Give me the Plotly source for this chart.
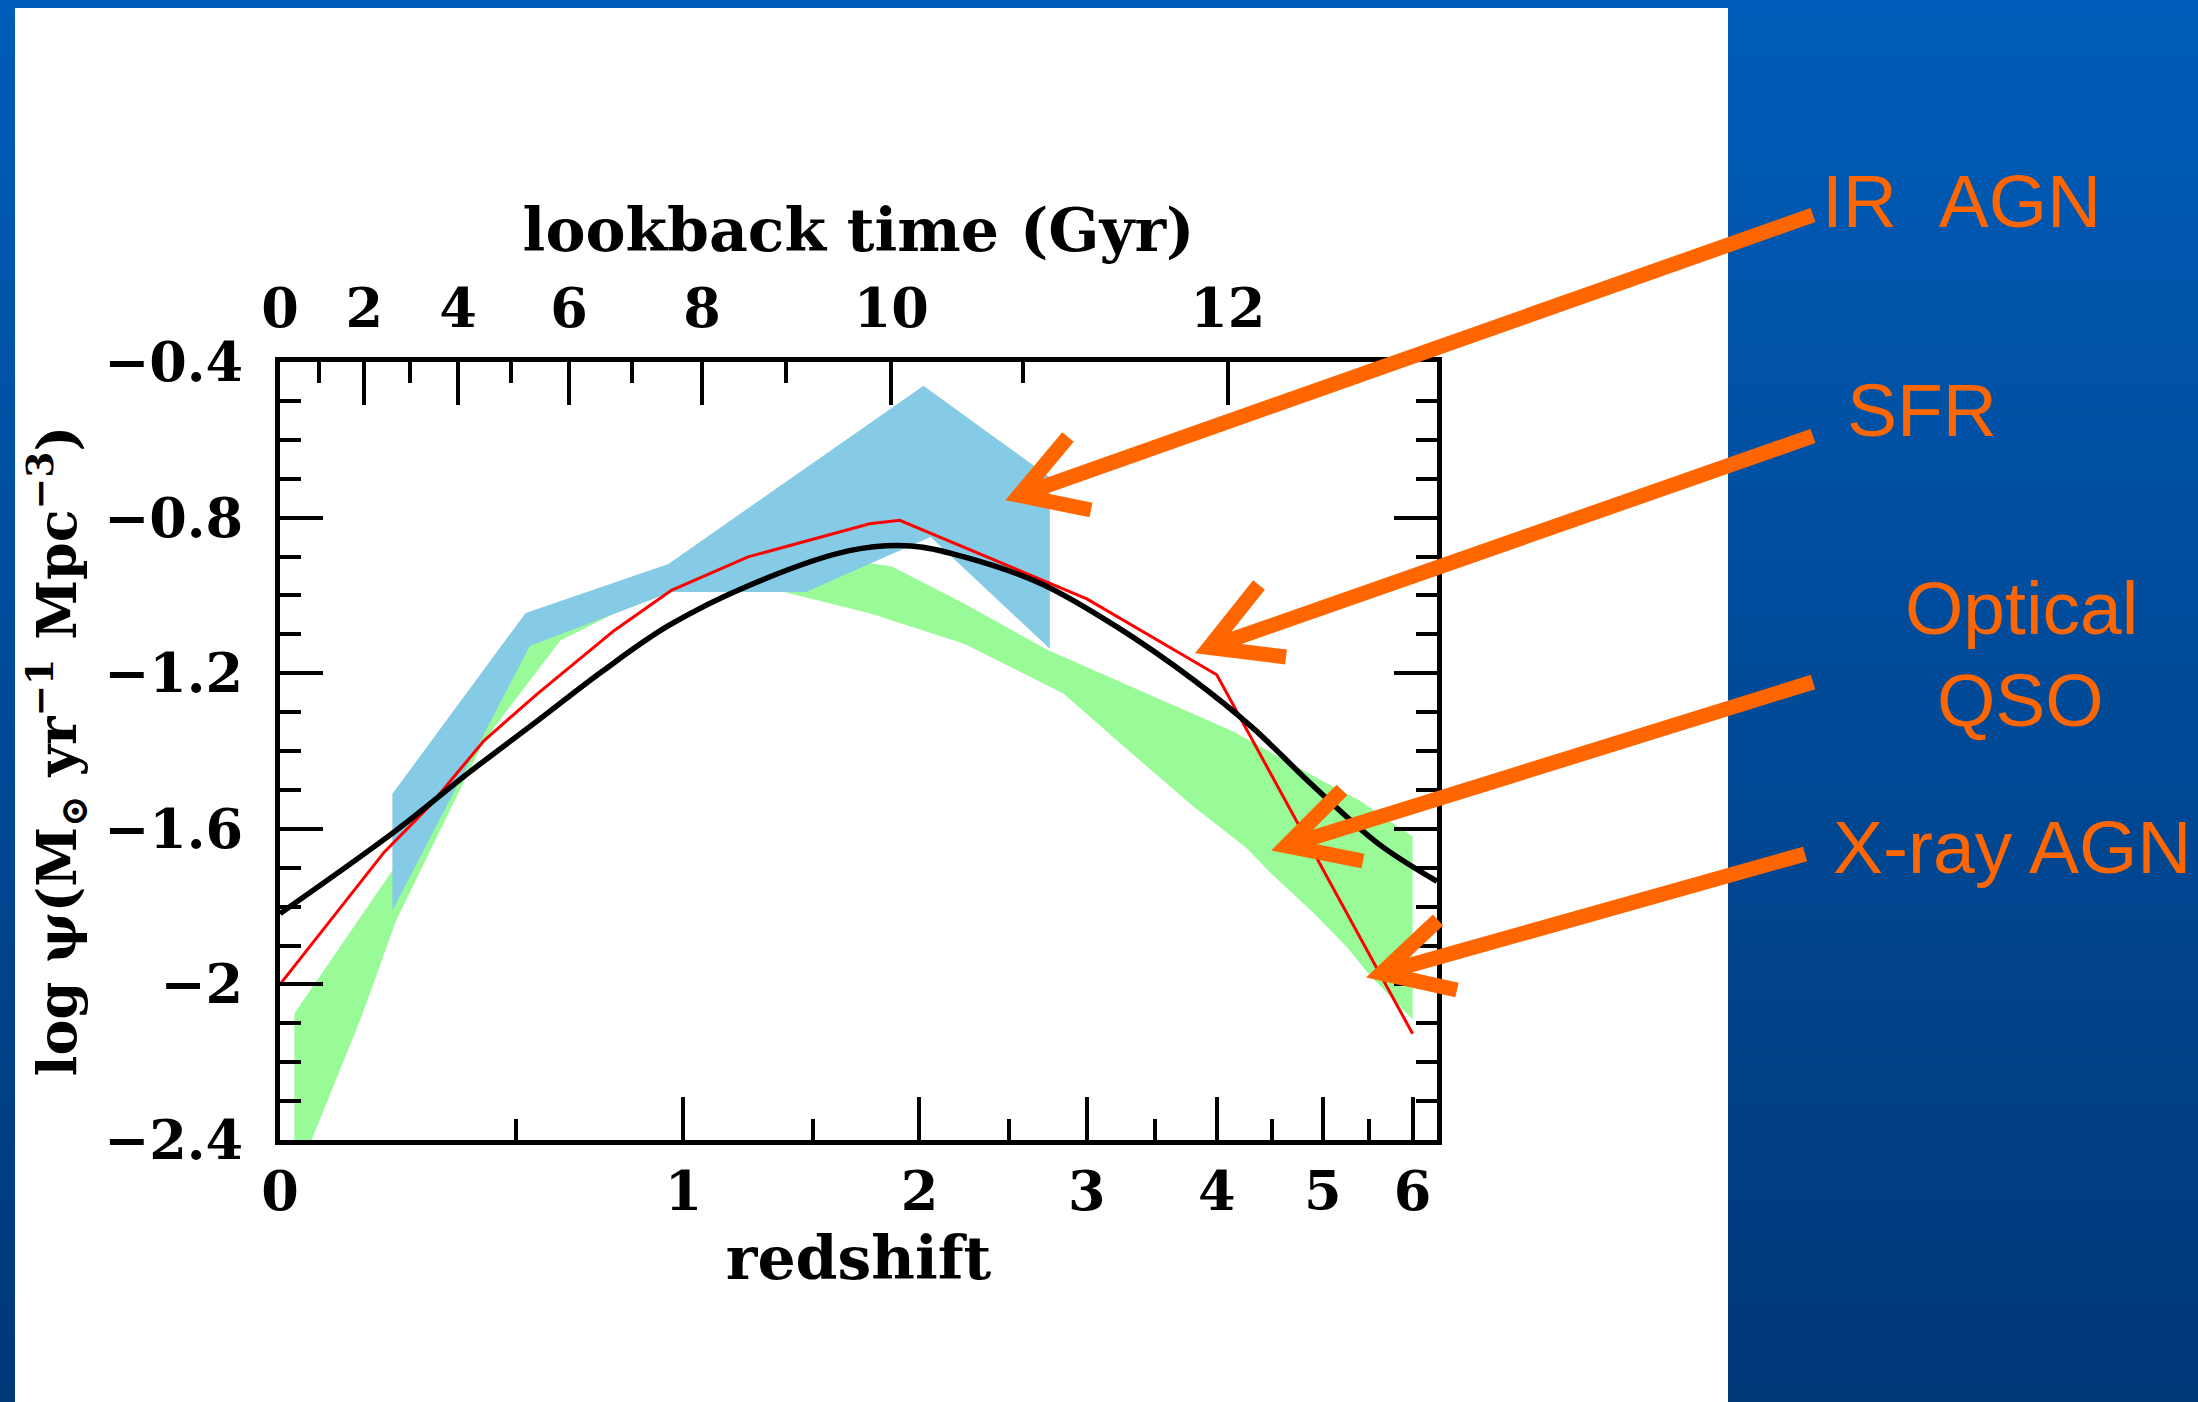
import plotly.graph_objects as go

# ---------------- data ----------------
# black curve: cosmic star-formation-rate density (log psi) vs redshift
black_z = [0.0, 0.221, 0.384, 0.557, 0.740, 0.949, 1.236, 1.660, 1.956, 2.239,
           2.698, 3.212, 3.808, 4.309, 4.902, 5.610, 6.30]
black_logpsi = [-1.818, -1.604, -1.455, -1.322, -1.195, -1.078, -0.975, -0.885,
                -0.873, -0.901, -0.970, -1.081, -1.218, -1.338, -1.490, -1.640, -1.735]

# red curve: SFR history (scaled)
red_z = [0.0, 0.196, 0.294, 0.420, 0.556, 0.776, 0.959, 1.235, 1.754, 1.90,
         3.0, 4.0, 6.0]
red_logpsi = [-2.0, -1.66, -1.54, -1.373, -1.253, -1.09, -0.987, -0.901, -0.816,
              -0.807, -1.009, -1.204, -2.127]

# blue band: IR AGN
ir_upper_z = [0.213, 0.525, 0.949, 2.021, 2.753]
ir_upper = [-1.51, -1.045, -0.919, -0.461, -0.696]
ir_lower_z = [0.213, 0.536, 0.959, 1.468, 2.058, 2.753]
ir_lower = [-1.81, -1.13, -0.991, -0.991, -0.85, -1.137]

# green band: optical QSO / X-ray AGN
qso_upper_z = [0.025, 0.213, 0.528, 0.959, 1.468, 1.660, 1.858, 2.239, 2.743,
               4.144, 5.017, 5.389, 6.0]
qso_upper = [-2.075, -1.707, -1.10, -0.97, -0.95, -0.91, -0.925, -1.021, -1.141,
             -1.35, -1.48, -1.527, -1.62]
qso_lower_z = [0.025, 0.056, 0.150, 0.221, 0.420, 0.619, 0.774, 0.959, 1.369,
               1.754, 2.239, 2.844, 3.212, 3.808, 4.257, 4.490, 4.902, 5.252,
               5.499, 6.0]
qso_lower = [-2.51, -2.40, -2.084, -1.835, -1.373, -1.116, -1.047, -0.98, -0.99,
             -1.046, -1.124, -1.253, -1.373, -1.544, -1.648, -1.715, -1.816,
             -1.904, -1.975, -2.09]

# axis ticks
z_ticks = [0, 1, 2, 3, 4, 5, 6]
z_labels = ["0", "1", "2", "3", "4", "5", "6"]
z_minor = [0.5, 1.5, 2.5, 3.5, 4.5, 5.5]
lb_major_z = [0.0, 0.156, 0.358, 0.643, 1.065, 1.858, 4.095]
lb_labels = ["0", "2", "4", "6", "8", "10", "12"]
lb_minor_z = [0.070, 0.251, 0.488, 0.830, 1.386, 2.585]
y_ticks = [-2.4, -2.0, -1.6, -1.2, -0.8, -0.4]
y_labels = ["\u22122.4", "\u22122", "\u22121.6", "\u22121.2", "\u22120.8", "\u22120.4"]
y_minor = [-2.3, -2.2, -2.1, -1.9, -1.8, -1.7, -1.5, -1.4, -1.3, -1.1, -1.0,
           -0.9, -0.7, -0.6, -0.5]

# ---------------- layout geometry ----------------
W, H = 2198, 1402
L, R, T, B = 280, 1437, 362, 1140
XMAX_LOG = 0.8633

def X(px):
    return (px - L) / (R - L)

def Y(py):
    return (B - py) / (B - T)

SERIF = "DejaVu Serif"
SANS = "Liberation Sans"
ORANGE = "#ff6600"

fig = go.Figure()

# green band
fig.add_trace(go.Scatter(
    x=[1 + z for z in qso_upper_z] + [1 + z for z in qso_lower_z[::-1]],
    y=qso_upper + qso_lower[::-1],
    fill="toself", fillcolor="#98fb98", mode="lines", line=dict(width=0),
    hoverinfo="skip", name="Optical QSO / X-ray AGN"))

# blue band
fig.add_trace(go.Scatter(
    x=[1 + z for z in ir_upper_z] + [1 + z for z in ir_lower_z[::-1]],
    y=ir_upper + ir_lower[::-1],
    fill="toself", fillcolor="#86cbe6", mode="lines", line=dict(width=0),
    hoverinfo="skip", name="IR AGN"))

# red line
fig.add_trace(go.Scatter(
    x=[1 + z for z in red_z], y=red_logpsi, mode="lines",
    line=dict(color="#ff0000", width=3), name="SFR"))

# black line
fig.add_trace(go.Scatter(
    x=[1 + z for z in black_z], y=black_logpsi, mode="lines",
    line=dict(color="black", width=5.5, shape="spline", smoothing=1.0),
    name="SFRD"))

# carrier trace for the top (lookback time) axis
fig.add_trace(go.Scatter(x=[1, 7.3], y=[None, None], xaxis="x2", mode="lines",
                         hoverinfo="skip", showlegend=False))

tick_font = dict(family=SERIF, size=54, color="black", weight="bold")
axis_common = dict(showgrid=False, zeroline=False, showline=True, linecolor="black",
                   linewidth=5, ticks="inside", ticklen=43, tickwidth=4,
                   tickcolor="black", tickfont=tick_font)
minor_common = dict(ticks="inside", ticklen=21, tickwidth=4, tickcolor="black",
                    showgrid=False)

fig.update_layout(
    width=W, height=H,
    margin=dict(l=L, r=W - R, t=T, b=H - B),
    paper_bgcolor="#004a99", plot_bgcolor="rgba(0,0,0,0)",
    showlegend=False,
    xaxis=dict(type="log", range=[0, XMAX_LOG], tickmode="array",
               tickvals=[1 + z for z in z_ticks], ticktext=z_labels,
               minor=dict(tickmode="array", tickvals=[1 + z for z in z_minor],
                          **minor_common),
               mirror=False, ticklabelstandoff=0,
               title=dict(text="\u00a0redshift",
                          font=dict(family=SERIF, size=60, color="black",
                                    weight="bold"), standoff=12),
               **axis_common),
    xaxis2=dict(type="log", range=[0, XMAX_LOG], overlaying="x", side="top",
                anchor="y", tickmode="array",
                tickvals=[1 + z for z in lb_major_z], ticktext=lb_labels,
                minor=dict(tickmode="array", tickvals=[1 + z for z in lb_minor_z],
                           **minor_common),
                ticklabelstandoff=8,
                title=dict(text="lookback time (Gyr)",
                           font=dict(family=SERIF, size=60, color="black",
                                     weight="bold"),
                           standoff=7),
                **axis_common),
    yaxis=dict(range=[-2.4, -0.4], tickmode="array", tickvals=y_ticks,
               ticktext=y_labels,
               minor=dict(tickmode="array", tickvals=y_minor, **minor_common),
               mirror="ticks", ticklabelstandoff=21,
               title=dict(text="log \u03c8(M<sub>\u2299</sub> yr<sup>\u22121</sup> Mpc<sup>\u22123</sup>)",
                          font=dict(family=SERIF, size=54, color="black",
                                    weight="bold"),
                          standoff=12),
               **axis_common),
)

# ---------------- background: blue gradient + white panel ----------------
shapes = []
NB = 70
top_c, bot_c = (0, 92, 184), (0, 56, 120)
for i in range(NB):
    t = i / (NB - 1)
    c = tuple(round(top_c[k] + (bot_c[k] - top_c[k]) * t) for k in range(3))
    y0 = H * i / NB
    y1 = H * (i + 1) / NB + 1
    shapes.append(dict(type="rect", xref="paper", yref="paper", layer="below",
                       x0=X(0), x1=X(W), y0=Y(y1), y1=Y(y0),
                       fillcolor="rgb(%d,%d,%d)" % c, line=dict(width=0)))
shapes.append(dict(type="rect", xref="paper", yref="paper", layer="below",
                   x0=X(15), x1=X(1728), y0=Y(H + 5), y1=Y(8),
                   fillcolor="white", line=dict(width=0)))

# ---------------- orange arrows ----------------
arrows = [
    ((1813, 215), (1006, 500), (1068, 437), (1091, 510)),
    ((1813, 436), (1196, 652), (1259, 585), (1286, 657)),
    ((1813, 682), (1273, 850), (1342, 790), (1363, 861)),
    ((1805, 854), (1368, 977), (1438, 920), (1457, 990)),
]
for tail, tip, a1, a2 in arrows:
    dx, dy = tail[0] - tip[0], tail[1] - tip[1]
    n = (dx * dx + dy * dy) ** 0.5
    vx, vy = tip[0] + 14 * dx / n, tip[1] + 14 * dy / n
    path = ("M{:.5f},{:.5f} L{:.5f},{:.5f} M{:.5f},{:.5f} L{:.5f},{:.5f} L{:.5f},{:.5f}"
            .format(X(tail[0]), Y(tail[1]), X(vx), Y(vy), X(a1[0]), Y(a1[1]),
                    X(vx), Y(vy), X(a2[0]), Y(a2[1])))
    shapes.append(dict(type="path", path=path, xref="paper", yref="paper",
                       layer="above", line=dict(color=ORANGE, width=15)))

fig.update_layout(shapes=shapes)

# ---------------- right-hand labels ----------------
labels = [
    ("IR\u00a0\u00a0AGN", 1820, 201, "left"),
    ("SFR", 1845, 410, "left"),
    ("Optical", 2021, 608, "center"),
    ("QSO", 2020, 700, "center"),
    ("X-ray AGN", 1831, 847, "left"),
]
for txt, px, py, anc in labels:
    fig.add_annotation(text=txt, xref="paper", yref="paper", x=X(px), y=Y(py),
                       xanchor=anc, yanchor="middle", showarrow=False,
                       font=dict(family=SANS, size=75, color=ORANGE))

fig.write_html("out.html")
